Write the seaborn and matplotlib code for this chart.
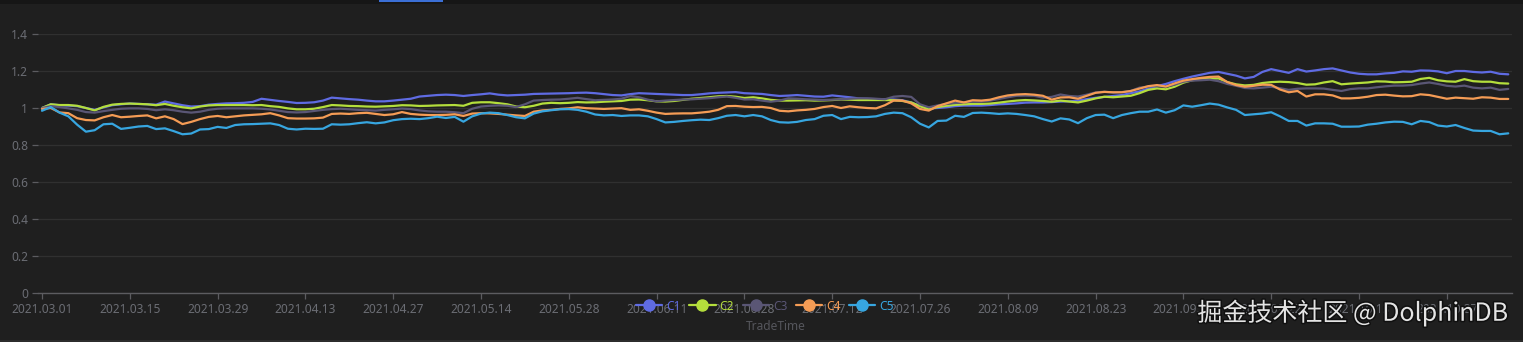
import matplotlib
matplotlib.use("Agg")
import matplotlib.pyplot as plt
import matplotlib.patheffects as pe
from matplotlib.lines import Line2D
from matplotlib.patches import Rectangle
import numpy as np
import pandas as pd
import seaborn as sns

# ---------------------------------------------------------------- data
# trading calendar (Shanghai/Shenzhen), 2021-03-01 .. 2021-11-05
start_date = "2021-03-01"
end_date = "2021-11-05"
market_holidays = ["2021-04-05", "2021-05-03", "2021-05-04", "2021-05-05",
                   "2021-06-14", "2021-09-20", "2021-09-21",
                   "2021-10-01", "2021-10-04", "2021-10-05", "2021-10-06",
                   "2021-10-07"]

series_names = ["C1", "C2", "C3", "C4", "C5"]

c1 = [1.000, 1.020, 1.015, 1.013, 1.010, 1.000, 0.990, 1.003, 1.015, 1.020,
      1.024, 1.022, 1.020, 1.018, 1.035, 1.025, 1.015, 1.008, 1.010, 1.018,
      1.022, 1.025, 1.026, 1.028, 1.033, 1.050, 1.044, 1.038, 1.033, 1.027,
      1.028, 1.031, 1.040, 1.056,
      1.052, 1.048, 1.045, 1.040, 1.036, 1.036, 1.040, 1.045, 1.050, 1.062,
      1.066, 1.070, 1.072, 1.070, 1.065, 1.070, 1.074, 1.079, 1.072, 1.068,
      1.070, 1.072, 1.076, 1.077, 1.078, 1.079, 1.080, 1.082, 1.083, 1.080,
      1.075, 1.070, 1.068,
      1.075, 1.080, 1.078, 1.076, 1.074, 1.072, 1.070, 1.070, 1.074, 1.079,
      1.082, 1.084, 1.086, 1.080, 1.078, 1.076, 1.070, 1.065, 1.067, 1.070,
      1.066, 1.062, 1.061, 1.068, 1.063, 1.058, 1.052, 1.050, 1.048, 1.047,
      1.046, 1.042, 1.030, 1.010,
      0.998, 1.000, 1.004, 1.010, 1.013, 1.013, 1.013, 1.016, 1.020, 1.022,
      1.025, 1.029, 1.030, 1.030, 1.032, 1.035, 1.036, 1.040, 1.048, 1.055,
      1.060, 1.065, 1.070, 1.080, 1.090, 1.105, 1.118, 1.130, 1.145, 1.158,
      1.170, 1.180, 1.190, 1.195,
      1.185, 1.175, 1.160, 1.168, 1.195, 1.210, 1.200, 1.190, 1.210, 1.197,
      1.203, 1.210, 1.214, 1.203, 1.192, 1.185, 1.182, 1.182, 1.187, 1.190,
      1.198, 1.196, 1.203, 1.202, 1.198, 1.188, 1.200, 1.200, 1.195, 1.192,
      1.196, 1.185, 1.182]

c2 = [1.000, 1.020, 1.016, 1.016, 1.012, 1.000, 0.987, 1.006, 1.018, 1.022,
      1.024, 1.022, 1.020, 1.015, 1.022, 1.012, 1.004, 0.998, 1.008, 1.014,
      1.016, 1.016, 1.016, 1.016, 1.015, 1.016, 1.010, 1.006, 0.998, 0.993,
      0.993, 0.996, 1.005, 1.016,
      1.014, 1.011, 1.010, 1.008, 1.007, 1.009, 1.011, 1.015, 1.014, 1.011,
      1.012, 1.014, 1.015, 1.016, 1.012, 1.028, 1.031, 1.031, 1.026, 1.020,
      1.008, 1.004, 1.012, 1.024, 1.028, 1.026, 1.028, 1.032, 1.030, 1.031,
      1.034, 1.036, 1.038,
      1.045, 1.046, 1.042, 1.036, 1.035, 1.038, 1.044, 1.050, 1.054, 1.058,
      1.063, 1.065, 1.061, 1.054, 1.058, 1.052, 1.044, 1.040, 1.040, 1.041,
      1.042, 1.040, 1.041, 1.043, 1.046, 1.045, 1.043, 1.043, 1.043, 1.043,
      1.042, 1.038, 1.030, 1.010,
      0.993, 1.005, 1.012, 1.017, 1.020, 1.022, 1.022, 1.024, 1.029, 1.035,
      1.040, 1.043, 1.041, 1.038, 1.034, 1.040, 1.035, 1.030, 1.040, 1.052,
      1.061, 1.058, 1.062, 1.066, 1.080, 1.098, 1.106, 1.101, 1.115, 1.137,
      1.150, 1.156, 1.158, 1.160,
      1.140, 1.128, 1.122, 1.125, 1.135, 1.140, 1.142, 1.140, 1.135, 1.126,
      1.128, 1.138, 1.145, 1.128, 1.132, 1.135, 1.138, 1.144, 1.143, 1.139,
      1.140, 1.142, 1.157, 1.163, 1.150, 1.144, 1.142, 1.156, 1.145, 1.142,
      1.142, 1.134, 1.132]

c3 = [1.000, 1.010, 1.005, 0.998, 0.990, 0.978, 0.975, 0.983, 0.990, 0.996,
      0.998, 0.998, 0.995, 0.988, 0.993, 0.988, 0.980, 0.975, 0.980, 0.990,
      0.996, 0.998, 0.998, 0.998, 0.998, 0.996, 0.992, 0.985, 0.978, 0.976,
      0.978, 0.984, 0.990, 0.994,
      0.996, 0.993, 0.990, 0.988, 0.986, 0.990, 0.993, 0.997, 0.994, 0.987,
      0.982, 0.980, 0.980, 0.977, 0.972, 0.996, 1.008, 1.012, 1.014, 1.012,
      1.005, 1.020, 1.040, 1.043, 1.045, 1.046, 1.050, 1.055, 1.048, 1.042,
      1.044, 1.046, 1.050,
      1.065, 1.058, 1.045, 1.036, 1.040, 1.043, 1.046, 1.047, 1.050, 1.053,
      1.058, 1.062, 1.055, 1.046, 1.047, 1.040, 1.034, 1.040, 1.052, 1.050,
      1.047, 1.045, 1.043, 1.045, 1.047, 1.050, 1.052, 1.052, 1.050, 1.047,
      1.061, 1.065, 1.060, 1.020,
      1.004, 1.014, 1.022, 1.027, 1.031, 1.034, 1.034, 1.040, 1.049, 1.058,
      1.066, 1.067, 1.066, 1.056, 1.060, 1.073, 1.065, 1.062, 1.072, 1.084,
      1.088, 1.083, 1.086, 1.092, 1.110, 1.116, 1.119, 1.115, 1.126, 1.142,
      1.148, 1.150, 1.153, 1.145,
      1.130, 1.120, 1.108, 1.106, 1.110, 1.115, 1.107, 1.098, 1.104, 1.106,
      1.106, 1.105, 1.098, 1.092, 1.102, 1.106, 1.106, 1.112, 1.117, 1.121,
      1.121, 1.124, 1.132, 1.138, 1.130, 1.120, 1.116, 1.121, 1.110, 1.106,
      1.110, 1.098, 1.103]

c4 = [0.995, 1.000, 0.976, 0.972, 0.945, 0.935, 0.933, 0.950, 0.962, 0.950,
      0.953, 0.957, 0.960, 0.944, 0.955, 0.940, 0.913, 0.925, 0.940, 0.952,
      0.957, 0.950, 0.955, 0.960, 0.963, 0.966, 0.972, 0.960, 0.945, 0.943,
      0.943, 0.944, 0.948, 0.968,
      0.970, 0.968, 0.972, 0.974, 0.968, 0.962, 0.966, 0.978, 0.968, 0.964,
      0.962, 0.962, 0.963, 0.966, 0.957, 0.970, 0.972, 0.971, 0.968, 0.964,
      0.960, 0.957, 0.980, 0.987, 0.990, 0.995, 0.998, 1.004, 0.999, 0.997,
      0.995, 0.997, 0.999,
      0.990, 0.993, 0.985, 0.975, 0.968, 0.970, 0.971, 0.971, 0.975, 0.980,
      0.990, 1.010, 1.011, 1.007, 1.005, 1.006, 1.000, 0.985, 0.982, 0.987,
      0.990, 0.995, 1.005, 1.011, 1.000, 1.009, 1.004, 1.000, 0.998, 1.015,
      1.040, 1.040, 1.025, 0.995,
      0.986, 1.010, 1.025, 1.040, 1.030, 1.042, 1.040, 1.045, 1.058, 1.068,
      1.073, 1.075, 1.072, 1.066, 1.045, 1.057, 1.058, 1.050, 1.066, 1.082,
      1.087, 1.085, 1.085, 1.092, 1.105, 1.118, 1.124, 1.116, 1.133, 1.148,
      1.156, 1.163, 1.168, 1.170,
      1.140, 1.124, 1.115, 1.120, 1.126, 1.125, 1.100, 1.085, 1.092, 1.062,
      1.074, 1.074, 1.068, 1.052, 1.052, 1.055, 1.061, 1.070, 1.072, 1.067,
      1.063, 1.064, 1.074, 1.070, 1.060, 1.050, 1.056, 1.053, 1.050, 1.058,
      1.056, 1.049, 1.049]

c5 = [0.985, 1.005, 0.975, 0.955, 0.910, 0.872, 0.880, 0.912, 0.915, 0.887,
      0.893, 0.900, 0.903, 0.886, 0.890, 0.875, 0.858, 0.862, 0.884, 0.886,
      0.898, 0.892, 0.908, 0.912, 0.913, 0.915, 0.917, 0.908, 0.888, 0.884,
      0.888, 0.887, 0.888, 0.912,
      0.910, 0.912, 0.918, 0.923, 0.917, 0.922, 0.934, 0.940, 0.942, 0.940,
      0.945, 0.953, 0.946, 0.952, 0.926, 0.955, 0.970, 0.975, 0.972, 0.962,
      0.950, 0.944, 0.970, 0.982, 0.988, 0.993, 0.994, 0.990, 0.980, 0.965,
      0.960, 0.962, 0.957,
      0.960, 0.960, 0.955, 0.940, 0.922, 0.925, 0.930, 0.934, 0.937, 0.935,
      0.945, 0.958, 0.962, 0.955, 0.962, 0.955, 0.935, 0.923, 0.921, 0.925,
      0.935, 0.940, 0.958, 0.962, 0.940, 0.952, 0.950, 0.951, 0.955, 0.968,
      0.975, 0.972, 0.950, 0.915,
      0.895, 0.930, 0.932, 0.958, 0.952, 0.973, 0.975, 0.972, 0.968, 0.971,
      0.968, 0.962, 0.955, 0.940, 0.927, 0.944, 0.938, 0.918, 0.945, 0.962,
      0.964, 0.945, 0.962, 0.972, 0.980, 0.980, 0.992, 0.975, 0.988, 1.014,
      1.007, 1.015, 1.024, 1.018,
      1.003, 0.990, 0.962, 0.966, 0.970, 0.977, 0.955, 0.930, 0.930, 0.905,
      0.917, 0.917, 0.915, 0.899, 0.899, 0.900, 0.910, 0.915, 0.922, 0.926,
      0.925, 0.912, 0.930, 0.924, 0.905, 0.900, 0.908, 0.892, 0.878, 0.876,
      0.876, 0.858, 0.863]

y_ticks = [0, 0.2, 0.4, 0.6, 0.8, 1, 1.2, 1.4]
y_tick_labels = ["0", "0.2", "0.4", "0.6", "0.8", "1", "1.2", "1.4"]

# ---------------------------------------------------------------- frame
trade_days = pd.bdate_range(start_date, end_date)
trade_days = trade_days[~trade_days.isin(pd.to_datetime(market_holidays))]
trade_labels = [d.strftime("%Y.%m.%d") for d in trade_days]

wide = pd.DataFrame({"C1": c1, "C2": c2, "C3": c3, "C4": c4, "C5": c5})
wide["pos"] = np.arange(len(wide))
long = wide.melt(id_vars="pos", var_name="series", value_name="value")

palette = {"C1": "#5f6be3", "C2": "#b4de3c", "C3": "#5a5675",
           "C4": "#f59c55", "C5": "#37a6e0"}

# ---------------------------------------------------------------- style
BG = "#1f1f1f"
LABEL = "#6b6d74"
sns.set_theme(style="dark", rc={
    "figure.facecolor": BG, "axes.facecolor": BG,
    "axes.edgecolor": "#5c5c60", "axes.grid": True,
    "grid.color": "#303030", "grid.linewidth": 0.9,
    "xtick.color": "#5c5c60", "ytick.color": "#5c5c60",
    "xtick.labelcolor": LABEL, "ytick.labelcolor": LABEL,
})
plt.rcParams["font.family"] = ["Noto Sans", "DejaVu Sans"]

W, H = 1523, 342
fig = plt.figure(figsize=(W / 100, H / 100), dpi=100)
left, right, top, bottom = 38, 1512, 34, 293
ax = fig.add_axes([left / W, 1 - bottom / H, (right - left) / W, (bottom - top) / H])

sns.lineplot(data=long, x="pos", y="value", hue="series", hue_order=series_names,
             palette=palette, linewidth=1.6, legend=False, ax=ax)

px = 8.78  # pixels per trading day
ax.set_xlim(-(42 - left) / px, (right - 42) / px)
ax.set_ylim(0, 1.4)

ax.set_yticks(y_ticks)
ax.set_yticklabels(y_tick_labels)
ax.set_xticks(np.arange(0, len(trade_labels), 10))
ax.set_xticklabels(trade_labels[::10])
ax.tick_params(axis="x", which="major", length=4, width=0.9, pad=3,
               labelsize=8.6, direction="out", bottom=True)
ax.tick_params(axis="y", which="major", length=4, width=0.9, pad=3,
               labelsize=8.6, direction="out", left=True)
ax.grid(axis="x", visible=False)
ax.grid(axis="y", visible=True)
for s in ("top", "right", "left"):
    ax.spines[s].set_visible(False)
ax.spines["bottom"].set_color("#5c5c60")
ax.spines["bottom"].set_linewidth(1.0)
ax.set_xlabel("")
ax.set_ylabel("")

# legend row across the bottom
handles = [Line2D([], [], color=palette[n], lw=1.6, marker="o", markersize=8)
           for n in series_names]
leg = fig.legend(handles, series_names, loc="center", ncol=5,
                 bbox_to_anchor=(765 / W, 1 - 306 / H), frameon=False,
                 fontsize=8.6, handlelength=2.2, handletextpad=0.35,
                 columnspacing=0.7, borderpad=0)
for txt, n in zip(leg.get_texts(), series_names):
    txt.set_color(palette[n])

fig.text(776 / W, 1 - 327 / H, "TradeTime", ha="center", va="center",
         fontsize=8.6, color="#55565c")

# watermark
fig.text(1508 / W, 1 - 313 / H, "掘金技术社区 @ DolphinDB", ha="right", va="center",
         fontsize=18, color="#e4e4e4",
         family=["Noto Sans CJK SC", "DejaVu Sans"],
         path_effects=[pe.withStroke(linewidth=2.2, foreground="#101010")])

# frame decorations: top strip with active tab marker, bottom border
fig.add_artist(Rectangle((0, 1 - 4 / H), 1, 4 / H, transform=fig.transFigure,
                         facecolor="#161616", edgecolor="none"))
fig.add_artist(Rectangle((379 / W, 1 - 2 / H), 64 / W, 2 / H, transform=fig.transFigure,
                         facecolor="#3b6fd6", edgecolor="none"))
fig.add_artist(Rectangle((0, 0), 1, 2 / H, transform=fig.transFigure,
                         facecolor="#2c2c2c", edgecolor="none"))

fig.savefig("out.png", dpi=100, facecolor=BG)
